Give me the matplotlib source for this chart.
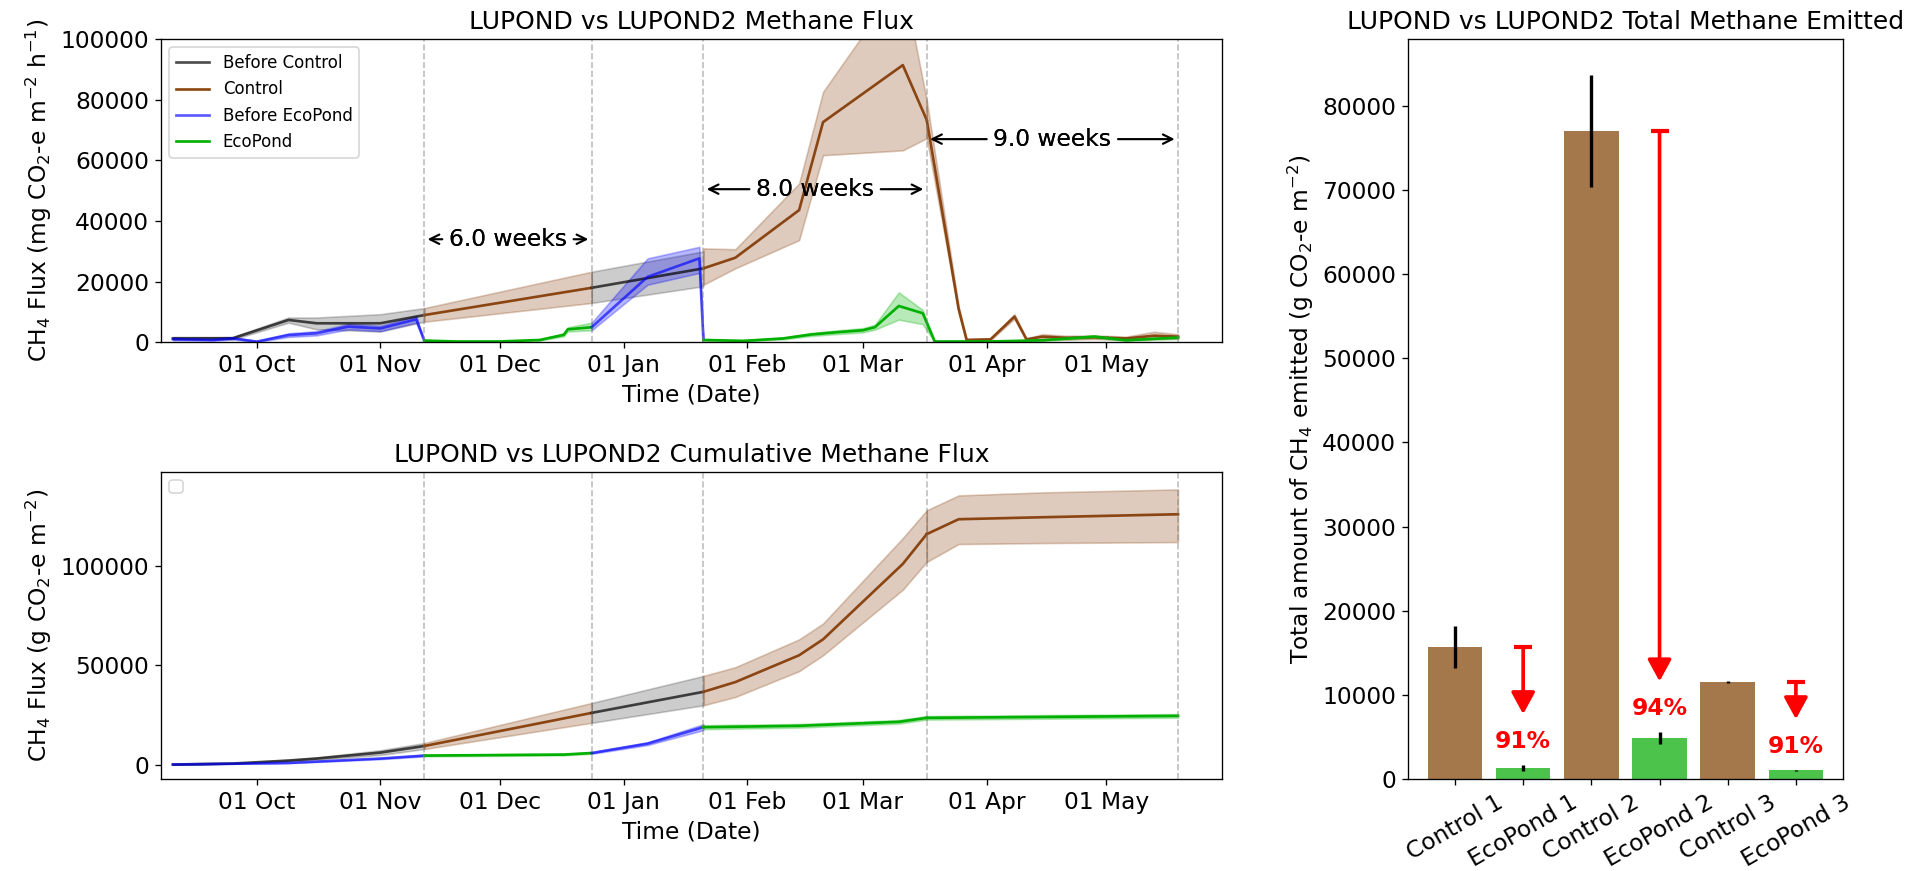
import numpy as np
import pandas as pd
import matplotlib
matplotlib.use('Agg')
import matplotlib.pyplot as plt
import matplotlib.dates as mdates

# ---- flux (mg CO2-e m-2 h-1) ----
# Before Control (grey)
bc1_dates = ['2023-09-10', '2023-09-25', '2023-10-09', '2023-10-16', '2023-11-01', '2023-11-12']
bc1_mean = [1300, 1350, 7400, 6300, 6300, 9000]
bc1_lo = [900, 950, 6500, 4300, 3600, 6800]
bc1_hi = [1800, 1800, 8200, 8200, 9300, 11300]
bc2_dates = ['2023-12-24', '2024-01-21']
bc2_mean = [18000, 24400]
bc2_lo = [13000, 18500]
bc2_hi = [23300, 30000]

# Control (brown)
c1_dates = ['2023-11-12', '2023-12-24']
c1_mean = [9000, 18000]
c1_lo = [6800, 13000]
c1_hi = [11300, 23300]
c2_dates = ['2024-01-21', '2024-01-29', '2024-02-14', '2024-02-20', '2024-03-11', '2024-03-17']
c2_mean = [24400, 27900, 43600, 72600, 91400, 73300]
c2_lo = [19000, 24400, 33700, 61700, 63300, 67300]
c2_hi = [31000, 30700, 52400, 82600, 120000, 79800]
c3_dates = ['2024-03-17', '2024-03-25', '2024-03-27', '2024-04-02', '2024-04-08', '2024-04-11',
            '2024-04-15', '2024-04-21', '2024-04-28', '2024-05-06', '2024-05-13', '2024-05-19']
c3_mean = [73300, 11000, 800, 1000, 8500, 1000, 1900, 1500, 1700, 1300, 2200, 1900]
c3_lo = [67300, 10000, 500, 700, 7800, 700, 1200, 900, 1100, 800, 1200, 1200]
c3_hi = [79800, 12000, 1100, 1300, 9300, 1300, 2700, 2200, 2300, 1900, 3500, 2700]

# Before EcoPond (blue)
be1_dates = ['2023-09-10', '2023-09-20', '2023-09-25', '2023-10-01', '2023-10-09', '2023-10-16',
             '2023-10-24', '2023-11-01', '2023-11-10', '2023-11-12']
be1_mean = [1100, 800, 1350, 250, 2400, 3000, 5200, 4600, 7600, 600]
be1_lo = [700, 500, 1000, 100, 1800, 2300, 4300, 3700, 6500, 400]
be1_hi = [1500, 1100, 1700, 500, 3000, 3700, 6100, 5500, 8700, 800]
be2_dates = ['2023-12-24', '2024-01-07', '2024-01-20', '2024-01-21']
be2_mean = [5000, 21600, 27700, 800]
be2_lo = [4000, 19000, 22900, 600]
be2_hi = [6500, 27700, 31500, 1000]

# EcoPond (green)
e1_dates = ['2023-11-12', '2023-11-20', '2023-12-01', '2023-12-11', '2023-12-17', '2023-12-18', '2023-12-24']
e1_mean = [600, 300, 300, 800, 2500, 4300, 5000]
e1_lo = [400, 200, 200, 600, 2000, 3600, 4000]
e1_hi = [800, 400, 400, 1000, 3000, 5000, 6500]
e2_dates = ['2024-01-21', '2024-01-31', '2024-02-10', '2024-02-17', '2024-02-23', '2024-03-01',
            '2024-03-04', '2024-03-10', '2024-03-16', '2024-03-19']
e2_mean = [800, 500, 1300, 2600, 3300, 4000, 5000, 12000, 9600, 300]
e2_lo = [600, 300, 1000, 2100, 2700, 3300, 4200, 7500, 6000, 200]
e2_hi = [1000, 700, 1600, 3100, 3900, 4700, 5800, 16500, 10700, 400]
e3_dates = ['2024-03-19', '2024-04-02', '2024-04-15', '2024-04-28', '2024-05-06', '2024-05-19']
e3_mean = [300, 300, 700, 1900, 700, 1600]
e3_lo = [200, 200, 500, 1500, 500, 1200]
e3_hi = [400, 400, 900, 2300, 900, 2000]

# ---- cumulative (g CO2-e m-2) ----
cbc1_dates = ['2023-09-10', '2023-09-25', '2023-10-09', '2023-10-16', '2023-11-01', '2023-11-12']
cbc1_mean = [0, 500, 2000, 3000, 6000, 9300]
cbc1_lo = [0, 400, 1600, 2400, 4800, 7800]
cbc1_hi = [0, 600, 2400, 3600, 7200, 10800]
cbc2_dates = ['2023-12-24', '2024-01-21']
cbc2_mean = [26000, 36600]
cbc2_lo = [21000, 29800]
cbc2_hi = [31000, 44600]
cc1_dates = ['2023-11-12', '2023-12-24']
cc1_mean = [9300, 26000]
cc1_lo = [7800, 21000]
cc1_hi = [10800, 31000]
cc2_dates = ['2024-01-21', '2024-01-29', '2024-02-14', '2024-02-20', '2024-03-11', '2024-03-17']
cc2_mean = [36600, 41500, 55000, 63000, 101000, 116000]
cc2_lo = [29800, 34000, 47000, 55000, 88000, 102000]
cc2_hi = [44600, 49000, 63000, 71000, 114000, 128000]
cc3_dates = ['2024-03-17', '2024-03-25', '2024-04-15', '2024-05-19']
cc3_mean = [116000, 123500, 124500, 126000]
cc3_lo = [102000, 111000, 111500, 112000]
cc3_hi = [128000, 135500, 137000, 138500]
cbe1_dates = ['2023-09-10', '2023-10-09', '2023-11-01', '2023-11-12']
cbe1_mean = [0, 800, 3000, 4500]
cbe1_lo = [0, 700, 2700, 4100]
cbe1_hi = [0, 900, 3300, 4900]
cbe2_dates = ['2023-12-24', '2024-01-07', '2024-01-21']
cbe2_mean = [5800, 10500, 18800]
cbe2_lo = [5400, 9800, 17300]
cbe2_hi = [6200, 11200, 20300]
ce1_dates = ['2023-11-12', '2023-12-17', '2023-12-24']
ce1_mean = [4500, 5000, 5800]
ce1_lo = [4100, 4600, 5400]
ce1_hi = [4900, 5400, 6200]
ce2_dates = ['2024-01-21', '2024-02-14', '2024-03-10', '2024-03-17']
ce2_mean = [18800, 19500, 21500, 23500]
ce2_lo = [17800, 18600, 20600, 22600]
ce2_hi = [19800, 20400, 22400, 24400]
ce3_dates = ['2024-03-17', '2024-05-19']
ce3_mean = [23500, 24500]
ce3_lo = [22600, 23600]
ce3_hi = [24400, 25400]

# period boundaries
marks = ['2023-11-12', '2023-12-24', '2024-01-21', '2024-03-17', '2024-05-19']
weeks_y = {0: 34000, 2: 50500, 3: 67000}

# ---- totals ----
bar_labels = ['Control 1', 'EcoPond 1', 'Control 2', 'EcoPond 2', 'Control 3', 'EcoPond 3']
bar_vals = [15700, 1340, 77000, 4900, 11530, 1030]
bar_err = [2500, 370, 6700, 700, 150, 80]
reduction = ['91%', '94%', '91%']

GREY = 'black'
BROWN = '#8B4513'
BLUE = 'blue'
GREEN = '#00b000'

d = pd.to_datetime


def seg(ax, dates, m, lo, hi, color, label=None, alpha=1.0):
    t = d(dates)
    ax.plot(t, m, color=color, alpha=alpha, lw=1.6, label=label)
    ax.fill_between(t, lo, hi, color=color, alpha=0.2 if color == GREY else 0.28)


fig = plt.figure(figsize=(1930 / 120, 871 / 120), dpi=120)
ax1 = fig.add_axes([0.0834, 0.6069, 0.5497, 0.3483])
ax2 = fig.add_axes([0.0834, 0.1056, 0.5497, 0.3530])
ax3 = fig.add_axes([0.7295, 0.1056, 0.2254, 0.8493])

# top panel
seg(ax1, bc1_dates, bc1_mean, bc1_lo, bc1_hi, GREY, 'Before Control', 0.7)
seg(ax1, c1_dates, c1_mean, c1_lo, c1_hi, BROWN, 'Control')
seg(ax1, be1_dates, be1_mean, be1_lo, be1_hi, BLUE, 'Before EcoPond', 0.65)
seg(ax1, e1_dates, e1_mean, e1_lo, e1_hi, GREEN, 'EcoPond')
seg(ax1, bc2_dates, bc2_mean, bc2_lo, bc2_hi, GREY, None, 0.7)
seg(ax1, be2_dates, be2_mean, be2_lo, be2_hi, BLUE, None, 0.65)
seg(ax1, c2_dates, c2_mean, c2_lo, c2_hi, BROWN)
seg(ax1, e2_dates, e2_mean, e2_lo, e2_hi, GREEN)
seg(ax1, c3_dates, c3_mean, c3_lo, c3_hi, BROWN)
seg(ax1, e3_dates, e3_mean, e3_lo, e3_hi, GREEN)

# bottom panel
seg(ax2, cbc1_dates, cbc1_mean, cbc1_lo, cbc1_hi, GREY, None, 0.7)
seg(ax2, cc1_dates, cc1_mean, cc1_lo, cc1_hi, BROWN)
seg(ax2, cbe1_dates, cbe1_mean, cbe1_lo, cbe1_hi, BLUE, None, 0.65)
seg(ax2, ce1_dates, ce1_mean, ce1_lo, ce1_hi, GREEN)
seg(ax2, cbc2_dates, cbc2_mean, cbc2_lo, cbc2_hi, GREY, None, 0.7)
seg(ax2, cbe2_dates, cbe2_mean, cbe2_lo, cbe2_hi, BLUE, None, 0.65)
seg(ax2, cc2_dates, cc2_mean, cc2_lo, cc2_hi, BROWN)
seg(ax2, ce2_dates, ce2_mean, ce2_lo, ce2_hi, GREEN)
seg(ax2, cc3_dates, cc3_mean, cc3_lo, cc3_hi, BROWN)
seg(ax2, ce3_dates, ce3_mean, ce3_lo, ce3_hi, GREEN)

for ax in (ax1, ax2):
    for m in marks:
        ax.axvline(d(m), color='gray', ls='--', lw=1, alpha=0.5)
    ax.set_xlim(d('2023-09-07'), d('2024-05-30'))
    ax.xaxis.set_major_locator(mdates.MonthLocator())
    ax.xaxis.set_major_formatter(mdates.DateFormatter('%d %b'))
    ax.tick_params(labelsize=14)
    ax.set_xlabel('Time (Date)', fontsize=14)

for i, y in weeks_y.items():
    a, b = d(marks[i]), d(marks[i + 1])
    mid = a + (b - a) / 2
    txt = f'{(b - a).days / 7:.1f} weeks'
    for end in (a, b):
        ax1.annotate(txt, xy=(end, y), xytext=(mid, y), ha='center', va='center', fontsize=14,
                     arrowprops=dict(arrowstyle='->', color='black', lw=1.3))

ax1.set_ylim(0, 100000)
ax1.set_title('LUPOND vs LUPOND2 Methane Flux', fontsize=15)
ax1.set_ylabel('CH$_4$ Flux (mg CO$_2$-e m$^{-2}$ h$^{-1}$)', fontsize=14)
ax1.legend(loc='upper left', fontsize=10)

ax2.set_ylim(-7300, 147500)
ax2.set_yticks([0, 50000, 100000])
ax2.set_title('LUPOND vs LUPOND2 Cumulative Methane Flux', fontsize=15)
ax2.set_ylabel('CH$_4$ Flux (g CO$_2$-e m$^{-2}$)', fontsize=14)
ax2.legend(handles=[], loc='upper left', fontsize=10)

# bar panel
cols = ['#a5784c' if 'Control' in b else '#4cc44c' for b in bar_labels]
x = np.arange(len(bar_labels))
ax3.bar(x, bar_vals, color=cols, yerr=bar_err, ecolor='black', error_kw=dict(lw=2))
for k in range(3):
    ci, ei = 2 * k, 2 * k + 1
    top = bar_vals[ei] + bar_err[ei]
    ax3.annotate('', xy=(ei, top + 6000), xytext=(ei, bar_vals[ci]),
                 arrowprops=dict(arrowstyle='-|>,head_length=0.55,head_width=0.3', color='red',
                                 lw=2.2, mutation_scale=20, shrinkA=0, shrinkB=0))
    ax3.plot(ei, bar_vals[ci], marker='_', ms=11, mew=2.5, color='red')
    ax3.text(ei, top + 2800, reduction[k], color='red', fontsize=14,
             fontweight='bold', ha='center', va='center')
ax3.set_xticks(x)
ax3.set_xticklabels(bar_labels, rotation=30, fontsize=14)
ax3.tick_params(labelsize=14)
ax3.set_title('LUPOND vs LUPOND2 Total Methane Emitted', fontsize=15)
ax3.set_ylabel('Total amount of CH$_4$ emitted (g CO$_2$-e m$^{-2}$)', fontsize=14)

fig.savefig('out.png', dpi=120)
